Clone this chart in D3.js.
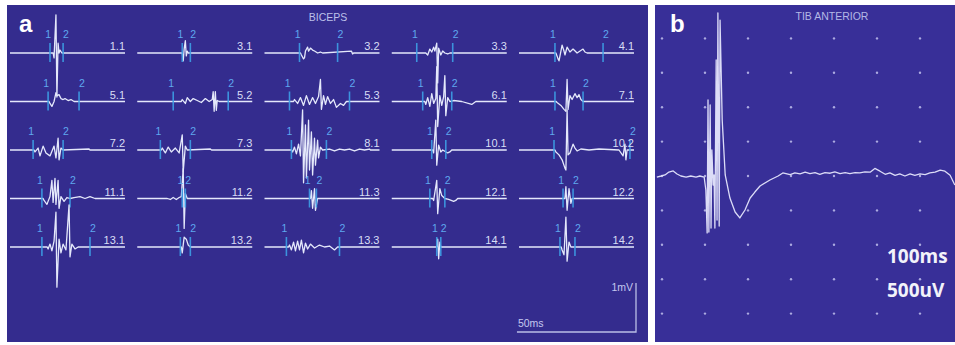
<!DOCTYPE html>
<html><head><meta charset="utf-8">
<script src="https://cdn.jsdelivr.net/npm/d3@7"></script>
<style>body{margin:0;background:#fff}svg{display:block}</style>
</head><body>
<svg id="c" width="955" height="345"></svg>
<script>
// ---------- Panel a data (BICEPS): time in ms, amplitude in mV ----------
const cellLabels = ["1.1","3.1","3.2","3.3","4.1","5.1","5.2","5.3","6.1","7.1","7.2","7.3","8.1","10.1","10.2","11.1","11.2","11.3","12.1","12.2","13.1","13.2","13.3","14.1","14.2"];
const marker1 = [16.8,18.9,14.7,10.5,15.1,16.0,15.1,10.5,13.0,15.1,9.7,9.7,11.3,16.8,14.7,13.4,18.9,18.9,16.0,18.5,13.4,18.1,9.2,18.9,17.2];
const marker2 = [22.3,22.3,30.7,25.6,35.3,29.0,38.2,35.7,25.2,26.9,22.3,22.3,26.0,22.7,46.6,25.2,20.2,21.8,22.3,22.7,33.6,22.3,31.5,20.6,23.5];
const potentials = [
 [[18.1,0],[18.5,-0.1],[19.3,0.78],[19.7,-0.9],[20.2,0.2],[20.6,0],[21.0,0.06],[21.8,0]],
 [[18.9,0],[19.3,-0.16],[19.7,0.08],[20.2,0.25],[20.6,-0.06],[21.0,0.04],[21.4,0]],
 [[15.5,-0.04],[16.4,-0.12],[16.8,-0.1],[17.2,0.04],[18.1,0.12],[18.5,0.04],[19.3,0.1],[20.2,0.06],[21.0,0.04],[22.3,0],[23.5,0.02],[24.4,0],[36.5,0.04],[37.0,-0.02],[37.4,0]],
 [[14.3,0],[15.1,-0.04],[16.0,0.08],[16.8,0.02],[17.6,0.12],[18.1,0.04],[18.9,0.2],[19.3,-0.61],[19.7,0.1],[20.6,-0.04],[21.4,0.04],[22.3,0],[23.5,-0.02],[24.4,0]],
 [[15.5,0],[16.4,-0.12],[16.8,-0.16],[18.1,0.16],[18.9,0.04],[19.3,-0.04],[20.2,0.12],[21.4,0.02],[22.7,0.08],[24.4,0],[26.9,0.08],[27.7,0.02],[28.6,0]],
 [[16.8,-0.04],[17.6,-0.1],[18.5,0],[19.3,0.18],[19.7,0.12],[20.6,0.14],[21.4,0.06],[22.3,0.04],[23.1,0.06],[24.4,0.02],[25.6,0.04],[26.9,0]],
 [[18.9,0.04],[20.2,-0.04],[21.0,0.08],[22.3,0],[23.5,0.06],[25.2,0.02],[26.9,-0.02],[28.6,0.06],[30.2,0],[31.5,0.04],[31.9,0.2],[32.3,-0.2],[32.8,0.2],[33.2,-0.18],[33.6,0.02],[34.4,0]],
 [[12.6,0.04],[13.9,-0.04],[15.1,0.08],[16.4,-0.08],[17.6,0.12],[18.9,-0.06],[20.2,0.08],[21.4,-0.04],[22.7,0.1],[23.5,0.45],[23.9,-0.16],[24.8,0.12],[25.6,-0.06],[26.5,0.1],[27.7,-0.04],[29.0,0.04],[30.2,-0.12],[31.9,-0.04],[33.2,-0.08],[34.4,0]],
 [[14.3,-0.06],[15.1,0.08],[16.0,-0.1],[16.8,0.16],[17.6,-0.04],[18.5,0.06],[18.9,0.71],[19.3,-0.51],[20.2,0.12],[21.0,-0.08],[21.8,0.1],[22.3,0.53],[22.7,-0.29],[23.5,0.08],[24.4,0],[26.0,0.02],[29.4,0],[33.6,-0.06],[35.3,0]],
 [[16.0,-0.02],[17.6,-0.08],[18.9,-0.16],[19.7,-0.2],[20.2,0.45],[20.6,-0.16],[21.4,0.12],[22.3,0.04],[23.5,0.16],[24.4,0.08],[25.2,0.14],[26.0,0.04],[26.9,0]],
 [[10.5,-0.04],[11.8,0.04],[12.6,-0.12],[13.9,0.08],[15.1,-0.06],[16.8,-0.12],[18.5,0.08],[19.3,-0.16],[20.2,0.24],[20.6,-0.2],[21.4,0.04],[22.3,0],[33.2,0.02],[33.6,0]],
 [[10.5,0.04],[11.8,-0.06],[13.0,0.06],[14.3,-0.04],[16.0,0.04],[17.6,-0.06],[18.9,0.31],[19.3,-0.45],[20.2,0.08],[21.0,0],[30.7,0.02],[31.2,0]],
 [[11.8,-0.04],[12.6,0.06],[13.4,-0.08],[14.3,0.12],[15.1,-0.12],[16.0,0.82],[16.4,-0.67],[17.2,0.51],[17.6,-0.57],[18.5,0.61],[18.9,-0.41],[19.7,0.37],[20.2,-0.51],[21.0,0.24],[21.4,-0.31],[22.3,0.2],[22.7,-0.16],[23.5,0.06],[24.4,0],[27.3,0.02],[29.4,-0.02],[31.5,0.02],[33.6,0],[35.7,0.02],[37.8,-0.02],[39.9,0.02],[42.0,0],[44.1,0.02]],
 [[17.6,-0.06],[18.5,0.61],[18.9,-0.31],[19.7,0.1],[20.6,-0.04],[21.4,0],[23.5,-0.06],[24.4,-0.04],[25.2,0]],
 [[15.5,-0.04],[16.8,-0.1],[18.1,-0.2],[19.3,-0.37],[19.7,-0.41],[20.2,0.82],[20.6,-0.1],[21.4,-0.06],[22.7,0.12],[23.5,0.04],[24.4,-0.02],[26.0,0.02],[29.4,0],[33.6,0.02],[42.0,0],[43.7,-0.12],[44.5,0.12],[44.9,-0.2],[45.4,0]],
 [[14.3,-0.04],[15.5,-0.12],[16.8,0.04],[17.6,0.37],[18.1,-0.08],[18.9,0.41],[19.3,-0.12],[20.2,0.37],[20.6,-0.2],[21.4,0.04],[22.7,-0.06],[23.9,0.02],[25.2,0],[26.9,0.02],[29.4,0.04],[31.5,0],[33.6,0.04],[35.7,0]],
 [[12.6,0],[13.9,-0.02],[15.1,0.02],[16.4,-0.02],[17.6,0.02],[18.5,0.04],[19.3,0.61],[19.7,-0.61],[20.2,0.1],[21.0,0]],
 [[19.7,0.16],[20.2,-0.2],[21.0,0.2],[21.4,-0.24],[22.3,0]],
 [[17.6,-0.04],[18.9,0.37],[19.3,-0.31],[20.2,0.2],[21.0,0.06],[22.3,0],[23.9,-0.02],[26.0,-0.06],[26.9,-0.04],[27.7,0]],
 [[19.3,0],[19.7,0.24],[20.2,-0.24],[21.0,0.2],[21.8,-0.1],[22.3,0]],
 [[16.0,-0.04],[16.8,0.06],[17.6,-0.08],[18.5,0.12],[19.3,0.71],[19.7,-0.82],[20.6,0.16],[21.4,-0.12],[22.3,0.06],[23.5,-0.06],[24.8,0.86],[25.2,-0.2],[26.0,0.06],[27.3,-0.04],[28.6,0]],
 [[18.5,0],[18.9,-0.12],[19.7,0.2],[20.6,0.16],[21.4,0.04],[22.3,0]],
 [[10.5,0.04],[11.3,-0.06],[12.2,0.1],[13.0,-0.08],[13.9,0.12],[14.7,-0.06],[15.5,0.14],[16.4,-0.12],[17.2,0.08],[18.1,-0.04],[19.3,0.06],[21.0,-0.02],[23.1,0.04],[25.2,0],[27.3,0.02],[29.4,-0.06],[30.7,0]],
 [[19.3,0.16],[19.7,-0.24],[20.2,0.1],[20.6,0]],
 [[18.1,-0.06],[18.9,-0.16],[19.7,0.61],[20.2,-0.29],[21.0,0.1],[21.8,0]]
];
const sweepMs = 48.3;
const scaleBarMs = 50, scaleBarMv = 1;

// ---------- Panel b data (TIB ANTERIOR): time in ms, amplitude in uV ----------
const tibTime = [-12,-2,7,16,26,35,44,56,67,79,88,98,102,105,107,109,112,114,116,119,121,123,126,128,130,133,135,140,147,158,170,181,193,205,216,228,251,270,281,298,309,321,333,344,356,367,379,391,402,414,426,437,449,460,472,484,495,507,519,530,542,553,565,577,588,600,612,623,635,647,658,670,681];
const tibVolt = [-15,0,15,58,73,29,0,-15,0,-15,0,-15,-203,-828,1105,-814,1032,-756,378,-131,15,-756,1686,-640,2369,-727,2267,814,15,-320,-523,-610,-494,-320,-233,-145,-58,0,44,20,45,30,55,35,50,25,50,40,60,35,50,35,50,45,60,55,110,70,25,45,10,30,0,30,10,30,20,45,55,85,70,10,-131];
const gridMs = [0,100,200,300,400,500,600];
const gridUv = [-2000,-1500,-1000,-500,0,500,1000,1500,2000];

const svg = d3.select("#c");
const BG_A = "#342c8e", BG_B = "#382f98";
svg.append("rect").attr("x",7).attr("y",5).attr("width",641).attr("height",337).attr("fill",BG_A);
svg.append("rect").attr("x",655).attr("y",5).attr("width",300).attr("height",337).attr("fill",BG_B);

// ---- Panel a ----
const cellW = 115, colStep = 127.25, rowStep = 48.5, x0a = 10, y0a = 53;
const xCell = d3.scaleLinear().domain([0, sweepMs]).range([0, cellW]);
const yCell = d3.scaleLinear().domain([-1, 1]).range([49, -49]);
const line = d3.line().x(d => xCell(d[0])).y(d => yCell(d[1]));

cellLabels.forEach((lab, i) => {
  const col = i % 5, row = Math.floor(i / 5);
  const g = svg.append("g").attr("transform", `translate(${x0a + col*colStep},${y0a + row*rowStep})`);
  const w = potentials[i];
  const pts = [[0,0],[w[0][0]-0.4,0]].concat(w).concat([[w[w.length-1][0]+0.4,0],[sweepMs,0]]);
  g.append("path").attr("d", line(pts)).attr("fill","none")
    .attr("stroke","#e4e8fb").attr("stroke-width",1.3).attr("stroke-linejoin","round");
  [marker1[i], marker2[i]].forEach((m, k) => {
    const mx = xCell(m);
    g.append("line").attr("x1",mx).attr("x2",mx).attr("y1",-10).attr("y2",9)
      .attr("stroke","#3d9fe6").attr("stroke-width",1.6).attr("opacity",0.9);
    g.append("text").attr("x", k === 0 ? mx + 1 : mx).attr("y",-15)
      .attr("text-anchor", k === 0 ? "end" : "start")
      .attr("font-family","Liberation Sans, Arial, sans-serif").attr("font-size",10.5)
      .attr("fill","#5fa8ee").text(k === 0 ? "1" : "2");
  });
  g.append("text").attr("x",cellW).attr("y",-3).attr("text-anchor","end")
    .attr("font-family","Liberation Sans, Arial, sans-serif").attr("font-size",11)
    .attr("fill","#d8ddf5").text(lab);
});

// scale bar
const sbX = 636, sbY = 332;
const xBar = d3.scaleLinear().domain([0, scaleBarMs]).range([sbX - xCell(scaleBarMs), sbX]);
const yBar = d3.scaleLinear().domain([0, scaleBarMv]).range([sbY, sbY + yCell(scaleBarMv)]);
svg.append("path").attr("d", `M${xBar(0)},${yBar(0)}H${xBar(scaleBarMs)}V${yBar(scaleBarMv)}`)
  .attr("fill","none").attr("stroke","#b9bde6").attr("stroke-width",1.3);
svg.append("text").attr("x",xBar(0)+1).attr("y",sbY-5).attr("font-family","Liberation Sans, Arial, sans-serif")
  .attr("font-size",10.5).attr("fill","#c4c8ee").text("50ms");
svg.append("text").attr("x",sbX-3).attr("y",yBar(scaleBarMv)+8).attr("text-anchor","end")
  .attr("font-family","Liberation Sans, Arial, sans-serif").attr("font-size",10.5).attr("fill","#c4c8ee").text("1mV");

svg.append("text").attr("x",328).attr("y",21).attr("text-anchor","middle")
  .attr("font-family","Liberation Sans, Arial, sans-serif").attr("font-size",10.5).attr("fill","#bcc0ea").text("BICEPS");
svg.append("text").attr("x",19).attr("y",32).attr("font-family","Liberation Sans, Arial, sans-serif")
  .attr("font-weight","bold").attr("font-size",24).attr("fill","#ffffff").text("a");

// ---- Panel b ----
const xb = d3.scaleLinear().domain([0, 100]).range([662, 705]);
const yb = d3.scaleLinear().domain([0, 500]).range([176, 141.6]);
gridMs.forEach(t => gridUv.forEach(v => {
  svg.append("circle").attr("cx", xb(t)).attr("cy", yb(v)).attr("r",1.2).attr("fill","#c9c9f2").attr("opacity",0.8);
}));
const lineB = d3.line().x((d,i) => xb(tibTime[i])).y((d,i) => yb(tibVolt[i]));
svg.append("path").attr("d", lineB(tibTime)).attr("fill","none")
  .attr("stroke","#dcdcf7").attr("stroke-width",1.3).attr("stroke-linejoin","round");
svg.append("text").attr("x",832).attr("y",20).attr("text-anchor","middle")
  .attr("font-family","Liberation Sans, Arial, sans-serif").attr("font-size",10.5).attr("fill","#b4b8e6").text("TIB ANTERIOR");
svg.append("text").attr("x",670).attr("y",32).attr("font-family","Liberation Sans, Arial, sans-serif")
  .attr("font-weight","bold").attr("font-size",24).attr("fill","#ffffff").text("b");
svg.append("text").attr("x",887).attr("y",263).attr("font-family","Open Sans, sans-serif")
  .attr("font-weight","bold").attr("font-size",19).attr("fill","#f2f2fa").text("100ms");
svg.append("text").attr("x",887).attr("y",297).attr("font-family","Open Sans, sans-serif")
  .attr("font-weight","bold").attr("font-size",19).attr("fill","#f2f2fa").text("500uV");
</script>
</body></html>
